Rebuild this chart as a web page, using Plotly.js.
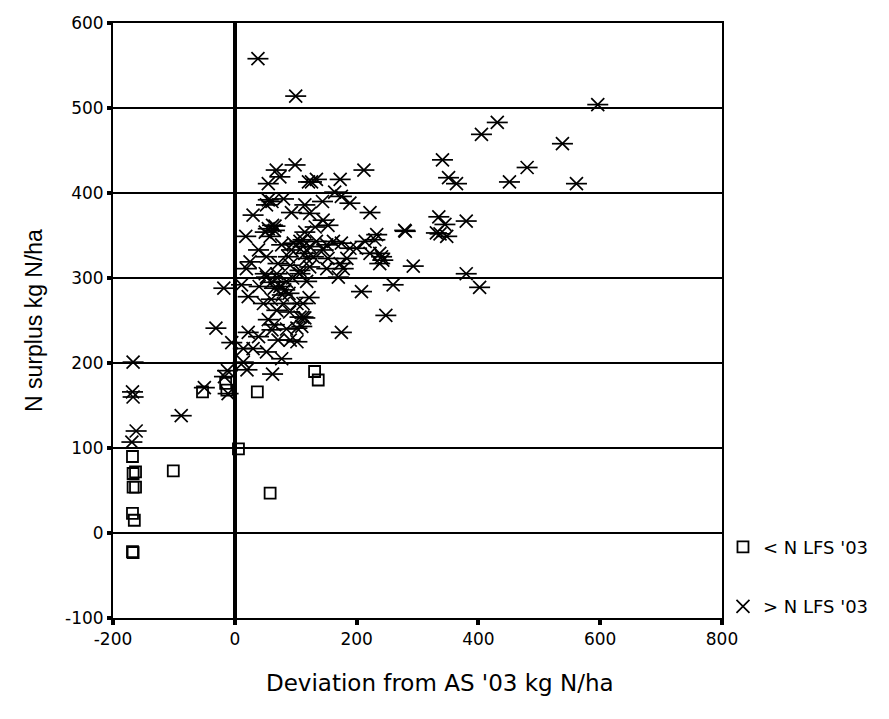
<!DOCTYPE html>
<html>
<head>
<meta charset="utf-8">
<script src="https://cdn.plot.ly/plotly-3.0.1.min.js"></script>
<style>html,body{margin:0;padding:0;background:#fff;}#chart{width:889px;height:719px;}</style>
</head>
<body>
<div id="chart"></div>
<script>
// Series: farms below N LFS '03 (open rounded squares)
const belowX = [-168,-167,-163,-167,-163,-168,-165,-168,-167,-101,-53,-15,-13,6,37,131,137,58];
const belowY = [90,70,72,54,54,23,15,-22,-23,73,166,176,168,99,166,190,180,47];

// Series: farms above N LFS '03 (asterisks)
const aboveX = [
 -167,-168,-167,-88,-162,-169,
 -50,-12,-17,-11,-5,-31,-18,
 20,62,77,14,22,11,22,14,30,39,52,71,91,102,47,55,61,69,82,74,102,107,102,112,107,52,
 99,68,74,55,121,80,55,61,52,115,93,30,18,55,66,50,58,115,96,107,77,39,52,25,71,88,93,112,118,91,107,19,50,69,
 212,126,134,173,164,175,189,144,123,222,145,153,132,279,233,230,214,162,175,112,123,134,151,189,200,222,238,241,238,115,129,145,153,184,173,151,178,123,
 208,248,175,260,170,118,122,112,115,110,
 596,431,405,538,341,480,351,364,451,561,335,345,331,337,348,380,280,293,380,402,243,
 38,100,
 60,65,70,78,85,62,65,89,95,60,80,90,65,85,40
];
const aboveY = [
 201,166,160,138,120,107,
 171,191,184,164,224,241,288,
 192,187,205,201,278,292,236,217,217,231,213,227,227,225,270,251,239,262,286,290,270,254,241,254,305,301,
 433,427,419,411,413,393,392,390,386,386,377,374,349,358,361,354,349,354,341,343,339,333,325,319,317,325,333,337,323,315,309,311,305,305,
 427,413,416,416,401,396,388,390,376,377,368,362,360,356,351,345,343,343,341,345,337,343,339,335,335,329,329,325,317,329,325,333,323,323,317,311,311,313,
 284,256,236,292,301,296,277,270,253,243,
 504,483,469,458,439,430,418,411,413,411,372,363,353,352,349,367,355,314,305,289,321,
 558,514,
 295,288,300,280,296,362,356,282,300,275,270,260,245,240,290
];

const xTicks = [-200,0,200,400,600,800];
const yTicks = [-100,0,100,200,300,400,500,600];
const xTitle = "Deviation from AS '03 kg N/ha";
const yTitle = "N surplus kg N/ha";
const belowName = "< N LFS '03";
const aboveName = "> N LFS '03";

const traces = [
  {x: belowX, y: belowY, type: 'scatter', mode: 'markers', name: belowName,
   legendgroup: 'a',
   marker: {symbol: 'square-open', size: 11, color: '#000', line: {color: '#000', width: 1.8}}},
  {x: aboveX, y: aboveY, type: 'scatter', mode: 'markers', name: aboveName,
   legendgroup: 'b',
   marker: {symbol: 'x-thin-open', size: 13, color: '#000', line: {color: '#000', width: 1.7}}},
  {x: aboveX, y: aboveY, type: 'scatter', mode: 'markers', name: aboveName,
   legendgroup: 'b', showlegend: false,
   marker: {symbol: 'line-ew-open', size: 15, color: '#000', line: {color: '#000', width: 1.7}}}
];

const wide = {family: '"DejaVu Sans", Verdana, sans-serif', color: '#000'};
const narrow = {family: '"Liberation Sans", Arial, sans-serif', color: '#000'};

const layout = {
  width: 889, height: 719,
  margin: {l: 113, r: 167, t: 23, b: 101, pad: 0},
  paper_bgcolor: '#fff', plot_bgcolor: '#fff',
  font: Object.assign({size: 17}, wide),
  showlegend: true,
  legend: {x: 1.0016, xanchor: 'left', y: 0.15, yanchor: 'top',
           traceorder: 'grouped', tracegroupgap: 33,
           font: Object.assign({size: 18}, wide), itemwidth: 30, bgcolor: 'rgba(0,0,0,0)'},
  xaxis: {range: [-200, 800], tickvals: xTicks, ticktext: xTicks.map(String),
          showgrid: false, zeroline: true, zerolinecolor: '#000', zerolinewidth: 4,
          showline: true, linecolor: '#000', linewidth: 2, mirror: true,
          ticks: 'outside', ticklen: 5, tickwidth: 4, tickcolor: '#000',
          tickfont: Object.assign({size: 17}, wide),
          automargin: false, fixedrange: true},
  yaxis: {range: [-100, 600], tickvals: yTicks, ticktext: yTicks.map(String),
          showgrid: true, gridcolor: '#000', gridwidth: 1.8, zeroline: false,
          showline: true, linecolor: '#000', linewidth: 2, mirror: true,
          ticks: 'outside', ticklen: 4, tickwidth: 4, tickcolor: '#000',
          tickfont: Object.assign({size: 17}, wide),
          title: {text: yTitle, font: Object.assign({size: 23}, narrow), standoff: 16},
          automargin: false, fixedrange: true},
  annotations: [
    {text: xTitle, xref: 'paper', yref: 'paper', x: 0.537, y: -0.109,
     xanchor: 'center', yanchor: 'middle', showarrow: false,
     font: Object.assign({size: 23}, wide)}
  ]
};

Plotly.newPlot('chart', traces, layout, {staticPlot: true, displayModeBar: false});
</script>
</body>
</html>
